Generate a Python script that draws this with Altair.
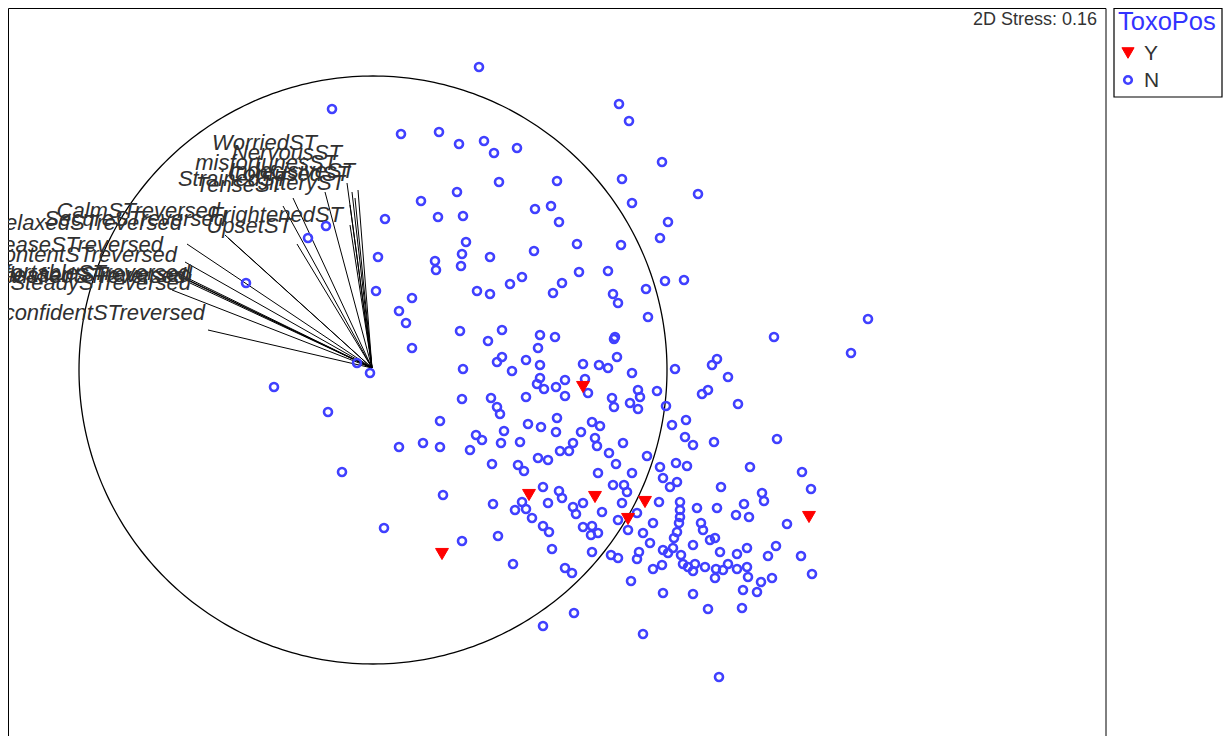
import altair as alt
import numpy as np
import pandas as pd

# ---------------- data (MDS coordinates) ----------------
# ToxoPos = N (blue open circles)
n_x = [1.07, -0.40, 0.29, 0.67, 0.87, 1.12, 1.22, 1.27, 0.85, 0.49, 0.66, 0.91, 0.13, -0.46, -0.64, 0.94,
       0.90, 0.63, 0.64, 0.89, 1.18, 0.06, 1.38, 0.04, 0.40, 1.05, 1.18, 0.27, 0.34, -1.26, 0.88, 1.30,
       2.47, 2.57, 1.45, 2.90, 1.85, 2.50, 3.26, 2.60, 1.63, 1.79, 1.87, 2.96, 2.88, 2.05, 2.49, 1.62,
       1.50, 2.07, 2.36, 1.90, 1.81, 2.41, 2.46, 2.74, 2.93, 3.12, 2.76, 1.68, 1.83, 2.43, 4.96,
       -0.98, -0.44, -0.30, -0.02, -0.15,
       0.40, 1.16, 1.66, 0.91, 1.40, 1.54, 1.68, 1.25, 1.30, 1.68, 1.65, 1.72, 1.84, 1.93, 1.93, 2.11,
       2.27, 2.13, 2.16, 0.90, 1.19, 1.25, 1.28, 1.54, 0.68, 1.04, 1.10, 1.32, 1.56, 1.69, 1.84, 1.85,
       2.09, 2.20, 2.28, 2.23, 2.25, 0.27, 0.51, 0.68, 0.98, 1.20, 1.29, 1.48, 1.46, 1.52, 1.66, 1.76,
       1.88, 1.97, 2.01, 2.26, 1.71, 1.87, 1.90, 2.01, 2.04, 2.11, 1.50, 1.43, 1.54, 1.60, 1.76, 1.21,
       0.71, 0.12, 1.71, 1.77, 2.11, 2.20, 2.19, 2.26, 1.26,
       2.42, 4.02, 4.79, 2.45, 2.36, 2.60, 3.03, 3.40, 3.45, 3.56, 2.40, 2.42, 2.66, 2.68, 2.66, 2.58,
       2.85, 2.94, 3.30, 3.36, 3.66, 4.05, 3.14, 3.00, 3.13, 3.21, 3.42, 2.37, 2.44, 2.51, 2.60, 2.75,
       2.88, 2.91, 3.04, 3.05, 3.15, 2.98, 2.41, 2.52, 2.55, 2.50, 2.87, 2.65, 2.30, 2.46, 2.56, 2.71,
       2.81, 3.08, 3.08, 3.08, 3.07, 3.25, 3.45, 3.49, 3.78, 3.90, 3.92, 3.72, 3.77, 3.64, 4.30, 4.39,
       4.15, 3.29, 3.31, 3.43, 3.05, 3.02,
       0.90,
       1.80, 2.20, 1.41, 1.93, 2.00, 2.39, 2.46, 2.65, 2.67, 2.78, 2.91, 2.96, 3.01, 3.09, 2.81, 2.90,
       3.11, 3.16, 3.23, 3.21, 3.33, 3.44, 3.43, 3.51, 3.56, 3.65, 3.75, 3.48, 3.65, 3.75, 3.21, 3.38,
       3.96, 4.04, 3.76, 3.89, 4.00, 3.71, 3.85, 4.29, 4.40, 2.59, 2.91, 3.21, 3.36, 3.70, 2.02, 1.71,
       2.71, 3.47]
n_y = [3.01, 2.59, 2.34, 2.36, 2.24, 2.27, 2.15, 1.86, 1.76, 1.67, 1.51, 1.52, 1.49, 1.42, 1.30, 1.26,
       1.14, 1.07, 0.98, 1.02, 1.11, 1.11, 0.84, 0.77, 0.70, 0.77, 0.74, 0.57, 0.45, 0.85, 0.37, 0.38,
       2.64, 2.47, 2.20, 2.06, 1.87, 1.89, 1.74, 1.65, 1.59, 1.62, 1.46, 1.46, 1.30, 1.24, 1.23, 1.17,
       0.91, 0.96, 0.97, 0.85, 0.75, 0.74, 0.65, 0.79, 0.87, 0.88, 0.51, 0.33, 0.31, 0.31, 0.49,
       -0.19, -0.44, -1.04, -0.05, 0.05,
       0.20, 0.27, 0.20, -0.01, -0.03, 0.08, 0.03, 0.06, 0.11, -0.10, -0.16, -0.21, -0.19, -0.12, -0.28, 0.04,
       0.03, -0.11, -0.25, -0.31, -0.30, -0.39, -0.46, -0.29, -0.53, -0.67, -0.72, -0.63, -0.56, -0.59, -0.64, -0.50,
       -0.64, -0.54, -0.58, -0.70, -0.78, -0.79, -0.75, -0.79, -0.82, -0.96, -0.75, -0.74, -0.97, -1.03, -0.90, -0.92,
       -0.83, -0.83, -0.75, -1.05, -1.19, -1.23, -1.30, -1.39, -1.46, -1.35, -1.34, -1.42, -1.41, -1.50, -1.35, -1.36,
       -1.27, -1.60, -1.58, -1.64, -1.59, -1.58, -1.67, -1.65, -1.68,
       0.29, 0.31, 0.15, 0.11, 0.00, -0.05, -0.01, 0.03, 0.09, -0.09, -0.30, -0.39, -0.22, -0.29, -0.41, -0.35,
       -0.23, -0.38, -0.26, -0.22, -0.36, -0.71, -0.52, -0.57, -0.69, -0.77, -0.74, -0.85, -0.96, -0.75, -1.05, -0.88,
       -0.99, -1.10, -0.95, -1.14, -0.98, -1.19, -1.17, -1.17, -1.24, -1.35, -1.34, -1.45, -1.44, -1.52, -1.62, -1.65,
       -1.55, -1.34, -1.42, -1.49, -1.55, -1.40, -1.40, -1.19, -0.99, -1.25, -1.33, -1.36, -1.49, -1.47, -1.04, -1.21,
       -1.56, -1.55, -1.62, -1.70, -1.64, -1.70,
       -1.73,
       -1.81, -1.84, -1.96, -2.00, -2.05, -1.87, -1.90, -1.91, -1.84, -1.75, -1.82, -1.85, -1.80, -1.87, -2.01, -1.97,
       -1.96, -1.99, -1.96, -2.03, -1.99, -2.01, -2.10, -2.02, -1.96, -2.01, -1.99, -1.84, -1.86, -1.80, -1.77, -1.72,
       -1.88, -1.78, -2.09, -2.14, -2.10, -2.22, -2.24, -1.88, -2.06, -2.13, -2.25, -2.26, -2.41, -2.40, -2.45, -2.58,
       -2.66, -3.09]

# ToxoPos = Y (red filled triangles)
y_x = [2.11, 1.57, 2.23, 2.73, 2.56, 4.37, 0.70]
y_y = [-0.19, -1.27, -1.29, -1.34, -1.51, -1.49, -1.86]

# vector overlay: variable names, vector ends, label anchors
vec_names = ["WorriedST", "NervousST", "misfortunesST", "IndecisiveST", "ConfusedST", "JitteryST",
             "StrainedST", "TenseST", "FrightenedST", "UpsetST", "CalmSTreversed", "SecureSTreversed",
             "RelaxedSTreversed", "AteaseSTreversed", "ContentSTreversed", "ComfortableSTreversed",
             "SatisfiedSTreversed", "PleasantSTreversed", "SteadySTreversed", "SelfconfidentSTreversed"]
vec_x = [-0.47, -0.25, -0.20, -0.14, -0.17, -0.22, -0.79, -0.89, -0.22, -0.75, -1.47, -1.44,
         -1.85, -1.87, -1.97, -1.92, -1.87, -1.82, -2.00, -1.64]
vec_y = [1.76, 1.85, 1.76, 1.78, 1.70, 1.63, 1.70, 1.62, 1.43, 1.24, 1.33, 1.30,
         1.24, 1.06, 0.96, 0.92, 0.89, 0.85, 0.78, 0.38]
lab_x = [-0.55, -0.30, -0.35, -0.17, -0.22, -0.27, -0.84, -0.89, -0.29, -0.80, -1.52, -1.46,
         -1.90, -2.09, -1.95, -1.82, -1.86, -1.80, -1.81, -1.67]
lab_y = [2.18, 2.08, 1.98, 1.90, 1.87, 1.78, 1.82, 1.76, 1.46, 1.35, 1.50, 1.42,
         1.38, 1.16, 1.06, 0.88, 0.85, 0.86, 0.78, 0.48]

circle_cx, circle_cy, circle_r = 0.01, -0.02, 2.94
stress_text = "2D Stress: 0.16"
stress_pos = (7.25, 3.43)
group_title = "ToxoPos"
groups = ["Y", "N"]

# plot frame extent (data units)
x_min, x_max = -3.64, 7.34
y_min, y_max = -3.70, 3.60

# ---------------- tables ----------------
pts = pd.DataFrame({
    "MDS1": n_x + y_x,
    "MDS2": n_y + y_y,
    "ToxoPos": ["N"] * len(n_x) + ["Y"] * len(y_x),
})
vecs = pd.DataFrame({"name": vec_names, "x0": 0.0, "y0": 0.0, "x1": vec_x, "y1": vec_y,
                     "lx": lab_x, "ly": lab_y})
theta = np.linspace(0, 2 * np.pi, 361)
circ = pd.DataFrame({"x": circle_cx + circle_r * np.cos(theta),
                     "y": circle_cy + circle_r * np.sin(theta),
                     "i": np.arange(len(theta))})
stress = pd.DataFrame({"x": [stress_pos[0]], "y": [stress_pos[1]], "t": [stress_text]})

FRAME_W = 1098          # pixels of the framed plot region
TOTAL_W = 1215          # frame + legend column (fits the window)
H = 730
PX_PER_UNIT = FRAME_W / (x_max - x_min)
xs = alt.Scale(domain=[x_min, x_min + TOTAL_W / PX_PER_UNIT], nice=False, zero=False)
ys = alt.Scale(domain=[y_min, y_max], nice=False, zero=False)

FONT = "Liberation Sans"
BLUE = "#4040ff"
RED = "#ff0000"
shape_rng = ["triangle-down", "circle"]
stroke_rng = [RED, BLUE]
fill_rng = [RED, "transparent"]
size_rng = [165, 64]
sw_rng = [1, 2.6]

one = pd.DataFrame({"t": [group_title]})

frame_layer = alt.Chart(one).mark_rect(fill="white", fillOpacity=0, stroke="black", strokeWidth=1).encode(
    x=alt.value(0.5), x2=alt.value(FRAME_W), y=alt.value(0.5), y2=alt.value(H + 10),
)

circle_layer = alt.Chart(circ).mark_line(color="black", strokeWidth=1.3).encode(
    x=alt.X("x:Q", scale=xs, axis=None),
    y=alt.Y("y:Q", scale=ys, axis=None),
    order="i:Q",
)

vec_layer = alt.Chart(vecs).mark_rule(color="black", strokeWidth=1).encode(
    x=alt.X("x0:Q", scale=xs, axis=None),
    y=alt.Y("y0:Q", scale=ys, axis=None),
    x2="x1:Q",
    y2="y1:Q",
)

lab_layer = alt.Chart(vecs).mark_text(
    align="right", baseline="alphabetic", font=FONT, fontStyle="italic",
    fontSize=22, color="#303030", clip=True,
).encode(
    x=alt.X("lx:Q", scale=xs, axis=None),
    y=alt.Y("ly:Q", scale=ys, axis=None),
    text="name:N",
)

pt_layer = alt.Chart(pts).mark_point(filled=False, opacity=1).encode(
    x=alt.X("MDS1:Q", scale=xs, axis=None),
    y=alt.Y("MDS2:Q", scale=ys, axis=None),
    shape=alt.Shape("ToxoPos:N", scale=alt.Scale(domain=groups, range=shape_rng), legend=None),
    stroke=alt.Stroke("ToxoPos:N", scale=alt.Scale(domain=groups, range=stroke_rng), legend=None),
    fill=alt.Fill("ToxoPos:N", scale=alt.Scale(domain=groups, range=fill_rng), legend=None),
    size=alt.Size("ToxoPos:N", scale=alt.Scale(domain=groups, range=size_rng), legend=None),
    strokeWidth=alt.StrokeWidth("ToxoPos:N", scale=alt.Scale(domain=groups, range=sw_rng), legend=None),
)

stress_layer = alt.Chart(stress).mark_text(
    align="right", baseline="alphabetic", font=FONT, fontSize=18, color="#333333"
).encode(
    x=alt.X("x:Q", scale=xs, axis=None),
    y=alt.Y("y:Q", scale=ys, axis=None),
    text="t:N",
)

# ---------------- legend (drawn beside the frame) ----------------
LX0, LX1, LY0, LY1 = FRAME_W + 8, TOTAL_W - 1, 0.5, 89
legend_layers = [
    alt.Chart(one).mark_rect(fill="white", stroke="black", strokeWidth=1.2).encode(
        x=alt.value(LX0), x2=alt.value(LX1), y=alt.value(LY0), y2=alt.value(LY1)),
    alt.Chart(one).mark_text(align="left", baseline="alphabetic", font=FONT, fontSize=25.5,
                             color="#3333ff").encode(
        x=alt.value(LX0 + 4), y=alt.value(22), text="t:N"),
]
for k, g in enumerate(groups):
    row = pd.DataFrame({"ToxoPos": [g]})
    yy = 45 + 27 * k
    legend_layers.append(
        alt.Chart(row).mark_point(opacity=1, filled=False).encode(
            x=alt.value(LX0 + 14), y=alt.value(yy),
            shape=alt.value(shape_rng[k]), stroke=alt.value(stroke_rng[k]),
            fill=alt.value(fill_rng[k]), size=alt.value(size_rng[k] * 0.9),
            strokeWidth=alt.value(sw_rng[k])))
    legend_layers.append(
        alt.Chart(row).mark_text(align="left", baseline="middle", font=FONT, fontSize=21,
                                 color="#333333").encode(
            x=alt.value(LX0 + 30), y=alt.value(yy + 1), text="ToxoPos:N"))

chart = alt.layer(frame_layer, circle_layer, vec_layer, lab_layer, pt_layer, stress_layer,
                  *legend_layers).properties(
    width=TOTAL_W, height=H, padding=0,
    autosize=alt.AutoSizeParams(type="none"),
).configure_view(stroke=None)

chart.save("out.html", embed_options={"renderer": "svg", "actions": False})
